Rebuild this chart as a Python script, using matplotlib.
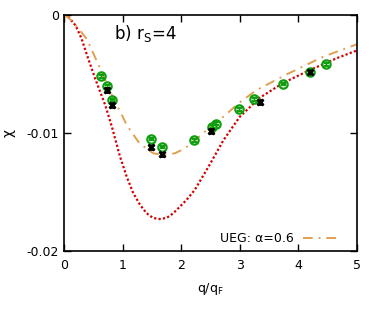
import matplotlib
matplotlib.use("Agg")
import matplotlib.pyplot as plt

# red dotted curve
red_q = [0.0, 0.08, 0.2, 0.3, 0.392, 0.534, 0.705, 0.819, 0.956, 1.07, 1.183, 1.30, 1.41,
         1.52, 1.627, 1.75, 1.866, 2.09, 2.235, 2.49, 2.72, 3.0, 3.345, 3.742,
         4.198, 4.65, 5.0]
red_chi = [0.0, -0.0002, -0.0009, -0.0020, -0.00339, -0.00542, -0.00765, -0.00950,
           -0.0120, -0.0137, -0.0151, -0.0161, -0.0168, -0.0172, -0.01729, -0.0172,
           -0.0168, -0.01568, -0.0148, -0.01265, -0.01062, -0.00862,
           -0.0070, -0.00575, -0.00466, -0.00367, -0.00300]

# UEG alpha=0.6 dash-dot curve
ueg_q = [0.0, 0.08, 0.25, 0.392, 0.592, 0.819, 0.99, 1.07, 1.268, 1.40, 1.524, 1.695,
         1.894, 2.065, 2.207, 2.45, 2.72, 3.0, 3.288, 3.80, 4.425, 5.0]
ueg_chi = [0.0, -0.00025, -0.00116, -0.00206, -0.00426, -0.0068, -0.0085, -0.00932,
           -0.01074, -0.0113, -0.01172, -0.01186, -0.01172, -0.0113, -0.01073,
           -0.0097, -0.00862, -0.0074, -0.00636, -0.00503, -0.00353, -0.00248]

# green points
green_q = [0.637, 0.734, 0.824, 1.480, 1.672, 2.224, 2.520, 2.594, 2.980, 3.247, 3.732,
           4.198, 4.471]
green_chi = [-0.00519, -0.00604, -0.00720, -0.01051, -0.01119, -0.01062, -0.00947,
             -0.00921, -0.00799, -0.00714, -0.00585, -0.00480, -0.00418]

# black points
black_q = [0.729, 0.824, 1.480, 1.667, 2.514, 3.350, 4.198]
black_chi = [-0.00636, -0.00763, -0.01116, -0.01181, -0.00983, -0.00735, -0.00486]

fig = plt.figure(figsize=(3.82, 3.16), dpi=100)
ax = fig.add_axes([0.1675, 0.2057, 0.767, 0.7468])

ax.plot(red_q, red_chi, color="#d40000", lw=1.6, linestyle=(0, (1, 1)))
ax.plot(ueg_q, ueg_chi, color="#e0a050", lw=1.4, linestyle=(0, (5, 3, 1, 3)),
        label="UEG: α=0.6")

ax.errorbar(green_q, green_chi, yerr=0.00011, fmt="o", ms=6, mfc="none",
            mec="#0e9e0e", mew=1.6, ecolor="#0e9e0e", elinewidth=1, capsize=1.8)
ax.errorbar(black_q, black_chi, yerr=0.00018, fmt="x", ms=5, color="black",
            mew=2, elinewidth=1.5, capsize=2.5)

ax.set_xlim(0, 5)
ax.set_ylim(-0.02, 0)
ax.set_xticks([0, 1, 2, 3, 4, 5])
ax.set_yticks([-0.02, -0.01, 0])
ax.set_yticklabels(["-0.02", "-0.01", "0"])
ax.tick_params(direction="in", top=True, right=True, length=5, labelsize=9, width=1)
ax.tick_params(axis="x", pad=6)
for s in ax.spines.values():
    s.set_linewidth(1.2)

ax.set_xlabel("q/q$_\\mathrm{F}$", fontsize=9, labelpad=6)
ax.set_ylabel("χ", fontsize=10, labelpad=8)
ax.text(0.17, 0.92, "b) r$_\\mathrm{S}$=4", transform=ax.transAxes, fontsize=12,
        va="center", ha="left")

leg = ax.legend(loc="lower right", frameon=False, fontsize=9, handlelength=2.8,
                markerfirst=False, borderaxespad=0.3, bbox_to_anchor=(0.966, -0.013))

plt.savefig("out.png", dpi=100)
